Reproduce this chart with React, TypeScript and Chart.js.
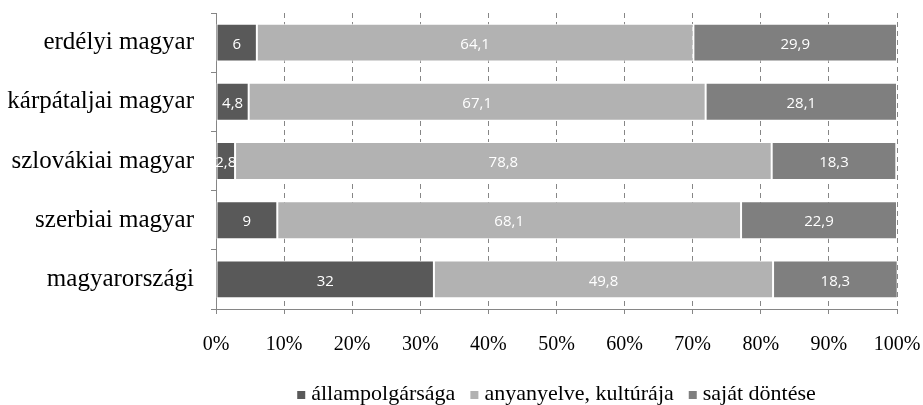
import React, { useEffect, useRef } from "react";
import { Chart, registerables } from "chart.js";

Chart.register(...registerables);

const categories = [
  "erdélyi magyar",
  "kárpátaljai magyar",
  "szlovákiai magyar",
  "szerbiai magyar",
  "magyarországi",
];
const allampolgarsaga = [6, 4.8, 2.8, 9, 32];
const anyanyelve = [64.1, 67.1, 78.8, 68.1, 49.8];
const sajatDontese = [29.9, 28.1, 18.3, 22.9, 18.3];
const seriesNames = ["állampolgársága", "anyanyelve, kultúrája", "saját döntése"];
const seriesColors = ["#595959", "#b2b2b2", "#7f7f7f"];
const xStep = 10;

const SERIF = "'Liberation Serif', serif";
const SANS = "'Open Sans', sans-serif";
const AXIS_GRAY = "#868686";

// Writes each segment's value (decimal comma) in the middle of its bar
const valueLabels = {
  id: "valueLabels",
  afterDatasetsDraw(chart: any) {
    const { ctx } = chart;
    ctx.save();
    ctx.font = `15px ${SANS}`;
    ctx.fillStyle = "#ffffff";
    ctx.textAlign = "center";
    ctx.textBaseline = "middle";
    chart.data.datasets.forEach((ds: any, i: number) => {
      const meta = chart.getDatasetMeta(i);
      meta.data.forEach((bar: any, j: number) => {
        const v = ds.data[j];
        const cx = (bar.x + bar.base) / 2;
        ctx.fillText(String(v).replace(".", ","), cx, bar.y + 2);
      });
    });
    ctx.restore();
  },
};

// Legend row under the axis, centred on the plot area
const bottomLegend = {
  id: "bottomLegend",
  afterDraw(chart: any) {
    const { ctx, chartArea } = chart;
    const box = 8;
    const gapText = 6;
    const gapItem = 15;
    ctx.save();
    ctx.font = `22px ${SERIF}`;
    const items = chart.data.datasets.map((ds: any) => ({
      text: ds.label,
      color: ds.backgroundColor,
      w: ctx.measureText(ds.label).width,
    }));
    const total =
      items.reduce((s: number, it: any) => s + box + gapText + it.w, 0) +
      gapItem * (items.length - 1);
    let x = (chartArea.left + chartArea.right) / 2 - total / 2;
    const baseline = 400;
    ctx.textBaseline = "alphabetic";
    ctx.textAlign = "left";
    items.forEach((it: any) => {
      ctx.fillStyle = it.color;
      ctx.fillRect(x, baseline - 9, box, box);
      x += box + gapText;
      ctx.fillStyle = "#000";
      ctx.fillText(it.text, x, baseline);
      x += it.w + gapItem;
    });
    ctx.restore();
  },
};

export default function App() {
  const canvasRef = useRef<HTMLCanvasElement | null>(null);

  useEffect(() => {
    if (!canvasRef.current) return;
    const data = [allampolgarsaga, anyanyelve, sajatDontese];
    const chart = new Chart(canvasRef.current, {
      type: "bar",
      data: {
        labels: categories,
        datasets: data.map((d, i) => ({
          label: seriesNames[i],
          data: d,
          backgroundColor: seriesColors[i],
          borderColor: "#ffffff",
          borderWidth: 1,
          borderSkipped: false,
          barPercentage: 0.64,
          categoryPercentage: 1,
        })),
      },
      options: {
        indexAxis: "y",
        animation: false,
        responsive: false,
        devicePixelRatio: 1,
        layout: { padding: { top: 13, right: 26, bottom: 29, left: 0 } },
        scales: {
          x: {
            stacked: true,
            min: 0,
            max: 100,
            afterFit: (scale: any) => {
              scale.paddingLeft = 0;
              scale.paddingRight = 0;
            },
            ticks: {
              stepSize: xStep,
              callback: (v: any) => `${v}%`,
              color: "#000",
              font: { family: SERIF, size: 20 },
              padding: 19,
              maxRotation: 0,
              autoSkip: false,
            },
            grid: {
              display: true,
              drawOnChartArea: true,
              drawTicks: true,
              color: AXIS_GRAY,
              lineWidth: 1,
              tickLength: 5,
              tickColor: AXIS_GRAY,
            },
            border: { display: true, color: AXIS_GRAY, width: 1, dash: [5, 4] },
          },
          y: {
            stacked: true,
            afterFit: (scale: any) => {
              scale.width = 216;
              scale.paddingTop = 0;
              scale.paddingBottom = 0;
            },
            ticks: {
              color: "#000",
              font: { family: SERIF, size: 25 },
              padding: 17,
            },
            grid: {
              display: true,
              offset: true,
              drawOnChartArea: false,
              drawTicks: true,
              tickLength: 5,
              color: AXIS_GRAY,
              tickColor: AXIS_GRAY,
            },
            border: { display: true, color: AXIS_GRAY, width: 1 },
          },
        },
        plugins: {
          legend: { display: false },
          tooltip: { enabled: false },
        },
      },
      plugins: [valueLabels, bottomLegend],
    });
    return () => chart.destroy();
  }, []);

  return (
    <div style={{ position: "fixed", left: 0, top: 0, width: 923, height: 405, background: "#fff" }}>
      <canvas ref={canvasRef} width={923} height={405} style={{ width: 923, height: 405 }} />
    </div>
  );
}
